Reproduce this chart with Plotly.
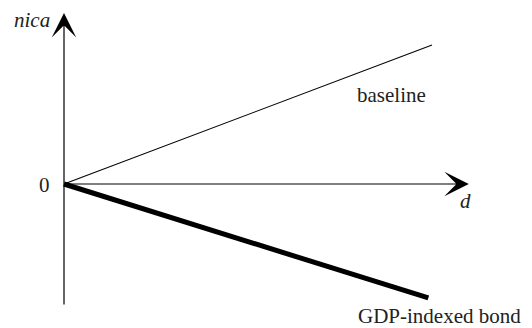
import plotly.graph_objects as go

# distance d and net international capital assets (schematic)
d = [0, 10]
baseline = [0, 5.0]
d_gdp = [0, 9.9]
gdp_bond = [0, -4.1]

fig = go.Figure()
fig.add_trace(go.Scatter(x=d, y=baseline, mode="lines", name="baseline",
                         line=dict(color="black", width=1.1)))
fig.add_trace(go.Scatter(x=d_gdp, y=gdp_bond, mode="lines", name="GDP-indexed bond",
                         line=dict(color="black", width=5)))

serif = "Liberation Serif"
# axes with arrowheads
fig.add_annotation(x=0, y=6.15, ax=0, ay=-4.39, xref="x", yref="y", axref="x", ayref="y",
                   text="", showarrow=True, arrowhead=3, arrowsize=3.4, arrowwidth=1.2,
                   arrowcolor="black")
fig.add_annotation(x=11.0, y=0, ax=0, ay=0, xref="x", yref="y", axref="x", ayref="y",
                   text="", showarrow=True, arrowhead=3, arrowsize=3.4, arrowwidth=1.2,
                   arrowcolor="black")

labels = [("<i>nica</i>", -0.87, 5.9), ("0", -0.52, -0.05), ("<i>d</i>", 10.9, -0.6),
          ("baseline", 8.9, 3.2), ("GDP-indexed bond", 10.2, -4.75)]
for txt, x, y in labels:
    fig.add_annotation(x=x, y=y, text=txt, showarrow=False,
                       font=dict(family=serif, size=21, color="#222222"))

fig.update_xaxes(range=[-1.739, 12.717], visible=False)
fig.update_yaxes(range=[-5.180, 6.619], visible=False)
fig.update_layout(width=532, height=328, margin=dict(l=0, r=0, t=0, b=0),
                  plot_bgcolor="white", paper_bgcolor="white", showlegend=False)
fig.write_html("out.html", config={"displayModeBar": False},
               post_script="document.body.style.margin='0';")
